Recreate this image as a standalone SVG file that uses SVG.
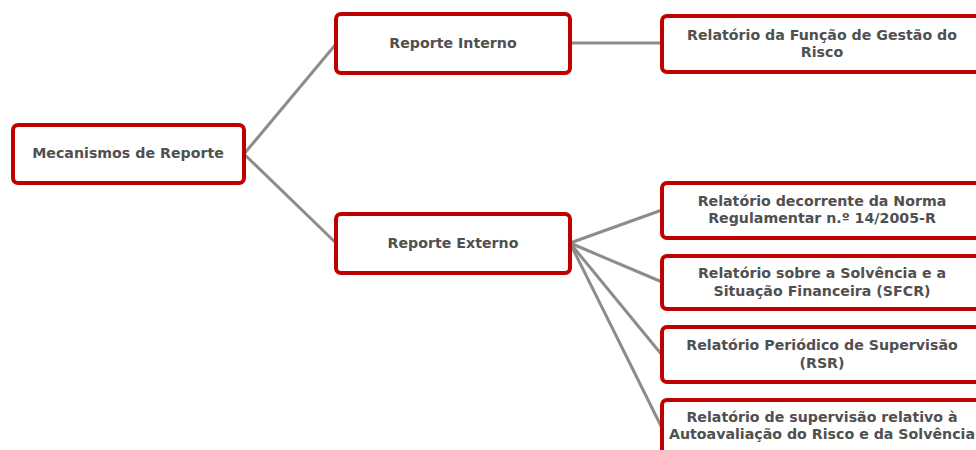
<svg xmlns="http://www.w3.org/2000/svg" width="976" height="450" viewBox="0 0 976 450">
<style>
.box{fill:#fff;stroke:#c00000;stroke-width:4}
.t{font-family:"DejaVu Sans","Verdana",sans-serif;font-weight:bold;font-size:14.2px;fill:#505050;text-anchor:middle}
.c{stroke:#8c8c8c;stroke-width:3;fill:none}
</style>
<rect width="976" height="450" fill="#fff"/>
<g id="connectors">
<line class="c" x1="244" y1="154" x2="336" y2="44"/>
<line class="c" x1="244" y1="154" x2="336" y2="243"/>
<line class="c" x1="570" y1="43" x2="662" y2="43"/>
<line class="c" x1="570" y1="243" x2="662" y2="210"/>
<line class="c" x1="570" y1="243" x2="662" y2="282"/>
<line class="c" x1="570" y1="243" x2="662" y2="355"/>
<line class="c" x1="570" y1="243" x2="662" y2="428"/>
</g>
<g id="n-mecanismos">
<rect class="box" x="13" y="125" width="231" height="58" rx="5"/>
<text class="t" x="128" y="158">Mecanismos de Reporte</text>
</g>
<g id="n-interno">
<rect class="box" x="336" y="14" width="234" height="59" rx="5"/>
<text class="t" x="453" y="48">Reporte Interno</text>
</g>
<g id="n-externo">
<rect class="box" x="336" y="214" width="234" height="59" rx="5"/>
<text class="t" x="453" y="248">Reporte Externo</text>
</g>
<g id="n-funcao">
<rect class="box" x="662" y="16" width="330" height="56" rx="5"/>
<text class="t" x="822" y="40">Relatório da Função de Gestão do</text>
<text class="t" x="822" y="57">Risco</text>
</g>
<g id="n-norma">
<rect class="box" x="662" y="183" width="330" height="55" rx="5"/>
<text class="t" x="822" y="206">Relatório decorrente da Norma</text>
<text class="t" x="822" y="223">Regulamentar n.º 14/2005-R</text>
</g>
<g id="n-sfcr">
<rect class="box" x="662" y="256" width="330" height="53" rx="5"/>
<text class="t" x="822" y="278">Relatório sobre a Solvência e a</text>
<text class="t" x="822" y="296">Situação Financeira  (SFCR)</text>
</g>
<g id="n-rsr">
<rect class="box" x="662" y="327" width="330" height="55" rx="5"/>
<text class="t" x="822" y="350">Relatório Periódico de Supervisão</text>
<text class="t" x="822" y="368">(RSR)</text>
</g>
<g id="n-orsa">
<rect class="box" x="662" y="400" width="330" height="70" rx="5"/>
<text class="t" x="822" y="422">Relatório de supervisão relativo à</text>
<text class="t" x="822" y="439">Autoavaliação do Risco e da Solvência</text>
</g>
</svg>
